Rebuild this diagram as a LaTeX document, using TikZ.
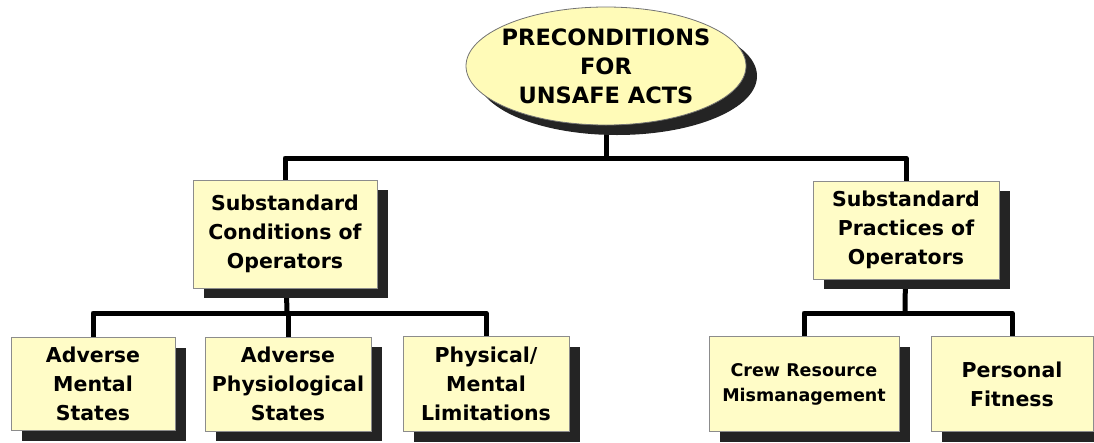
\documentclass[tikz,border=0pt]{standalone}
\usepackage{fontspec}
\setmainfont{DejaVu Sans}
\usetikzlibrary{shapes.geometric,shadows,backgrounds}

\tikzset{
	box/.style={draw=black!45, line width=0.8pt, fill=yellow!22, inner sep=0pt,
		align=center, font=\fontsize{20.5}{29}\selectfont\bfseries,
		drop shadow={shadow xshift=11pt, shadow yshift=-10pt, fill=black!86, opacity=1}},
	oval/.style={box, ellipse, fill=yellow!28, draw=black!55, inner xsep=-8pt},
	link/.style={line width=5pt, line cap=round, line join=round}
}

\begin{document}
\begin{tikzpicture}[x=1pt, y=-1pt]
\useasboundingbox (0,0) rectangle (1094,442);

% top
\node[oval, minimum width=280pt, minimum height=118pt,
	font=\fontsize{22.5}{29}\selectfont\bfseries] (pre) at (606,66)
	{PRECONDITIONS\\FOR\\UNSAFE ACTS};

% second level
\node[box, minimum width=184pt, minimum height=108pt] (cond) at (285,234)
	{Substandard\\Conditions of\\Operators};
\node[box, minimum width=186pt, minimum height=98pt] (prac) at (906,230)
	{Substandard\\Practices of\\Operators};

% third level
\node[box, minimum width=164pt, minimum height=93pt] (mental) at (93,384)
	{Adverse\\Mental\\States};
\node[box, minimum width=166pt, minimum height=94pt] (physio) at (288,384)
	{Adverse\\Physiological\\States};
\node[box, minimum width=166pt, minimum height=95pt] (limits) at (486,384)
	{Physical/\\Mental\\Limitations};
\node[box, minimum width=190pt, minimum height=95pt, font=\fontsize{17.5}{25}\selectfont\bfseries] (crew) at (804,384)
	{Crew Resource\\Mismanagement};
\node[box, minimum width=162pt, minimum height=95pt] (fit) at (1012,384)
	{Personal\\Fitness};

% joints
\coordinate (j0) at (606,158);
\coordinate (j1) at (287,313);
\coordinate (j2) at (905,313);

\begin{scope}[on background layer]
\draw[link] (pre.center) -- (j0);
\draw[link] (cond.north) |- (j0) -| (prac.north);
\draw[link] (cond.center) -- (j1);
\draw[link] (mental.north) |- (j1) -| (limits.north);
\draw[link] (physio.north) -- (physio.north |- j1);
\draw[link] (prac.center) -- (j2);
\draw[link] (crew.north) |- (j2) -| (fit.north);
\end{scope}

\end{tikzpicture}
\end{document}
